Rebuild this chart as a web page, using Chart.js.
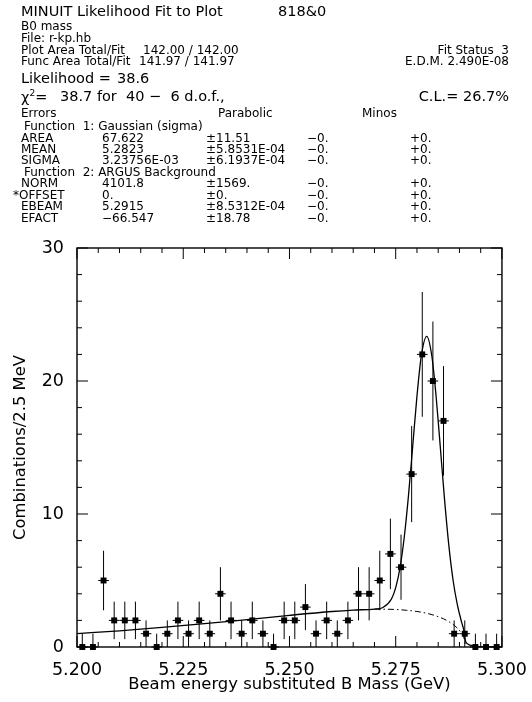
<!DOCTYPE html>
<html>
<head>
<meta charset="utf-8">
<title>MINUIT Likelihood Fit to Plot</title>
<script src="https://cdn.jsdelivr.net/npm/chart.js@4.4.1/dist/chart.umd.min.js"></script>
<style>
  body { margin: 0; background: #fff; }
  #page { position: relative; width: 532px; height: 702px; overflow: hidden;
          font-family: "DejaVu Sans", sans-serif; color: #000; }
  #page canvas { position: absolute; left: 0; top: 0; }
  .t { position: absolute; white-space: pre; line-height: 1; font-size: 12px; }
  .big { font-size: 14.5px; }
  .r { text-align: right; right: 23px; }
</style>
</head>
<body>
<div id="page">
  <canvas id="fitChart" width="532" height="702"></canvas>

  <div class="t big" style="left:21px; top:4px;">MINUIT Likelihood Fit to Plot</div>
  <div class="t big" style="left:278px; top:4px;">818&amp;0</div>
  <div class="t" style="left:21px; top:20px;">B0 mass</div>
  <div class="t" style="left:21px; top:32px;">File: r-kp.hb</div>
  <div class="t" style="left:21px; top:44px;">Plot Area Total/Fit</div>
  <div class="t" style="left:143px; top:44px;">142.00 / 142.00</div>
  <div class="t r" style="top:44px;">Fit Status  3</div>
  <div class="t" style="left:21px; top:55px;">Func Area Total/Fit</div>
  <div class="t" style="left:139px; top:55px;">141.97 / 141.97</div>
  <div class="t r" style="top:55px;">E.D.M. 2.490E-08</div>
  <div class="t big" style="left:21px; top:71px;">Likelihood =</div>
  <div class="t big" style="left:117px; top:71px;">38.6</div>
  <div class="t big" style="left:21px; top:89px;">χ<sup style="font-size:9px;">2</sup>=</div>
  <div class="t big" style="left:60px; top:89px;">38.7 for  40 −  6 d.o.f.,</div>
  <div class="t big r" style="top:89px;">C.L.= 26.7%</div>

  <div class="t" style="left:21px; top:107px;">Errors</div>
  <div class="t" style="left:218px; top:107px;">Parabolic</div>
  <div class="t" style="left:362px; top:107px;">Minos</div>
  <div class="t" style="left:24px; top:120px;">Function  1: Gaussian (sigma)</div>
  <div id="params"></div>
</div>

<script>
// fitted parameters table (name, value, parabolic error, minos -, minos +)
const paramNames = ['AREA', 'MEAN', 'SIGMA', 'NORM', '*OFFSET', 'EBEAM', 'EFACT'];
const paramValues = ['67.622', '5.2823', '3.23756E-03', '4101.8', '0.', '5.2915', '−66.547'];
const paramErrors = ['±11.51', '±5.8531E-04', '±6.1937E-04', '±1569.', '±0.', '±8.5312E-04', '±18.78'];
const minosLow = ['−0.', '−0.', '−0.', '−0.', '−0.', '−0.', '−0.'];
const minosHigh = ['+0.', '+0.', '+0.', '+0.', '+0.', '+0.', '+0.'];
const paramRowTop = [132, 143, 154, 177, 189, 200, 212];

// histogram: 40 bins of 2.5 MeV between 5.200 and 5.300 GeV
const binCenters = [
  5.20125, 5.20375, 5.20625, 5.20875, 5.21125, 5.21375, 5.21625, 5.21875, 5.22125, 5.22375,
  5.22625, 5.22875, 5.23125, 5.23375, 5.23625, 5.23875, 5.24125, 5.24375, 5.24625, 5.24875,
  5.25125, 5.25375, 5.25625, 5.25875, 5.26125, 5.26375, 5.26625, 5.26875, 5.27125, 5.27375,
  5.27625, 5.27875, 5.28125, 5.28375, 5.28625, 5.28875, 5.29125, 5.29375, 5.29625, 5.29875
];
const counts = [
  0, 0, 5, 2, 2, 2, 1, 0, 1, 2,
  1, 2, 1, 4, 2, 1, 2, 1, 0, 2,
  2, 3, 1, 2, 1, 2, 4, 4, 5, 7,
  6, 13, 22, 20, 17, 1, 1, 0, 0, 0
];
const countErrors = [
  1, 1, 2.24, 1.41, 1.41, 1.41, 1, 1, 1, 1.41,
  1, 1.41, 1, 2, 1.41, 1, 1.41, 1, 1, 1.41,
  1.41, 1.73, 1, 1.41, 1, 1.41, 2, 2, 2.24, 2.65,
  2.45, 3.61, 4.69, 4.47, 4.12, 1, 1, 1, 1, 1
];
const binHalfWidth = 0.00125;

// total fit (gaussian + argus), events per bin
const fitX = [5.200, 5.210, 5.220, 5.230, 5.240, 5.250, 5.260, 5.265, 5.270, 5.272,
  5.274, 5.275, 5.276, 5.277, 5.278, 5.279, 5.280, 5.281, 5.2823, 5.2835,
  5.2845, 5.2855, 5.2865, 5.2875, 5.2885, 5.2895, 5.2905, 5.291, 5.2915, 5.2925,
  5.294, 5.300];
const fitY = [1.01, 1.22, 1.47, 1.75, 2.06, 2.38, 2.67, 2.78, 2.85, 2.97,
  3.61, 4.46, 5.94, 8.23, 11.36, 15.10, 18.86, 21.84, 23.36, 21.88,
  18.87, 15.00, 11.06, 7.64, 5.02, 3.18, 1.87, 1.30, 0.37, 0.15,
  0.03, 0];

// argus background alone under the peak
const bkgX = [5.270, 5.2725, 5.275, 5.2775, 5.280, 5.2825, 5.285, 5.2875, 5.2895, 5.2905, 5.291, 5.2915];
const bkgY = [2.84, 2.84, 2.82, 2.76, 2.67, 2.52, 2.28, 1.91, 1.42, 1.03, 0.74, 0];

const xTicks = ['5.200', '5.225', '5.250', '5.275', '5.300'];
const yTicks = ['0', '10', '20', '30'];

// build the parameter rows
const params = document.getElementById('params');
const fn2 = document.createElement('div');
fn2.className = 't';
fn2.style.cssText = 'left:24px; top:166px;';
fn2.textContent = 'Function  2: ARGUS Background';
params.appendChild(fn2);
paramNames.forEach((name, i) => {
  const cols = [
    [name.startsWith('*') ? 13 : 21, name],
    [102, paramValues[i]],
    [206, paramErrors[i]],
    [307, minosLow[i]],
    [410, minosHigh[i]]
  ];
  cols.forEach(([left, text]) => {
    const d = document.createElement('div');
    d.className = 't';
    d.style.left = left + 'px';
    d.style.top = paramRowTop[i] + 'px';
    d.textContent = text;
    params.appendChild(d);
  });
});

// frame, inward ticks and error bars, PAW style
const histoDecor = {
  id: 'histoDecor',
  afterDatasetsDraw(chart) {
    const { ctx, chartArea: a, scales: { x, y } } = chart;
    ctx.save();
    ctx.strokeStyle = '#000';

    ctx.lineWidth = 1;
    ctx.beginPath();
    binCenters.forEach((c, i) => {
      const px = x.getPixelForValue(c);
      const py = y.getPixelForValue(counts[i]);
      ctx.moveTo(x.getPixelForValue(c - binHalfWidth), py);
      ctx.lineTo(x.getPixelForValue(c + binHalfWidth), py);
      const top = y.getPixelForValue(counts[i] + countErrors[i]);
      const bot = Math.min(y.getPixelForValue(counts[i] - countErrors[i]), a.bottom);
      ctx.moveTo(px, top);
      ctx.lineTo(px, bot);
    });
    ctx.stroke();

    ctx.beginPath();
    for (let k = 0; k <= 20; k++) {
      const px = x.getPixelForValue(5.2 + k * 0.005);
      const len = k % 5 === 0 ? 11 : 5;
      ctx.moveTo(px, a.bottom); ctx.lineTo(px, a.bottom - len);
      ctx.moveTo(px, a.top); ctx.lineTo(px, a.top + len);
    }
    for (let k = 0; k <= 15; k++) {
      const py = y.getPixelForValue(k * 2);
      const len = k % 5 === 0 ? 11 : 5;
      ctx.moveTo(a.left, py); ctx.lineTo(a.left + len, py);
      ctx.moveTo(a.right, py); ctx.lineTo(a.right - len, py);
    }
    ctx.stroke();

    ctx.lineWidth = 1.4;
    ctx.strokeRect(a.left, a.top, a.width, a.height);
    ctx.restore();
  }
};

const tickFont = { family: 'DejaVu Sans', size: 17.5 };
const titleFont = { family: 'DejaVu Sans', size: 16.4 };

new Chart(document.getElementById('fitChart'), {
  data: {
    datasets: [
      {
        type: 'line',
        data: fitX.map((v, i) => ({ x: v, y: fitY[i] })),
        borderColor: '#000',
        borderWidth: 1.3,
        pointRadius: 0,
        cubicInterpolationMode: 'monotone'
      },
      {
        type: 'line',
        data: bkgX.map((v, i) => ({ x: v, y: bkgY[i] })),
        borderColor: '#000',
        borderWidth: 1,
        borderDash: [6, 3, 1.5, 3],
        pointRadius: 0,
        cubicInterpolationMode: 'monotone'
      },
      {
        type: 'scatter',
        data: binCenters.map((v, i) => ({ x: v, y: counts[i] })),
        pointStyle: 'rect',
        pointRadius: 4.2,
        backgroundColor: '#000',
        borderWidth: 0,
        clip: false
      }
    ]
  },
  options: {
    responsive: false,
    animation: false,
    layout: { padding: { left: 0, right: 25, top: 248, bottom: 0 } },
    plugins: { legend: { display: false }, tooltip: { enabled: false } },
    scales: {
      x: {
        type: 'linear',
        min: 5.2,
        max: 5.3,
        afterFit(s) { s.height = 55; },
        afterBuildTicks(s) { s.ticks = xTicks.map(v => ({ value: parseFloat(v) })); },
        grid: { display: false },
        border: { display: false },
        ticks: {
          callback: (v, i) => xTicks[i],
          maxRotation: 0,
          autoSkip: false,
          padding: 5,
          color: '#000',
          font: tickFont
        },
        title: {
          display: true,
          text: 'Beam energy substituted B Mass (GeV)',
          color: '#000',
          font: titleFont,
          padding: { top: 0, bottom: 7 }
        }
      },
      y: {
        min: 0,
        max: 30,
        afterFit(s) { s.width = 77; },
        afterBuildTicks(s) { s.ticks = yTicks.map(v => ({ value: parseFloat(v) })); },
        grid: { display: false },
        border: { display: false },
        ticks: {
          callback: (v, i) => yTicks[i],
          padding: 5,
          color: '#000',
          font: tickFont
        },
        title: {
          display: true,
          text: 'Combinations/2.5 MeV',
          color: '#000',
          font: titleFont,
          padding: { top: 11, bottom: 0 }
        }
      }
    }
  },
  plugins: [histoDecor]
});
</script>
</body>
</html>
